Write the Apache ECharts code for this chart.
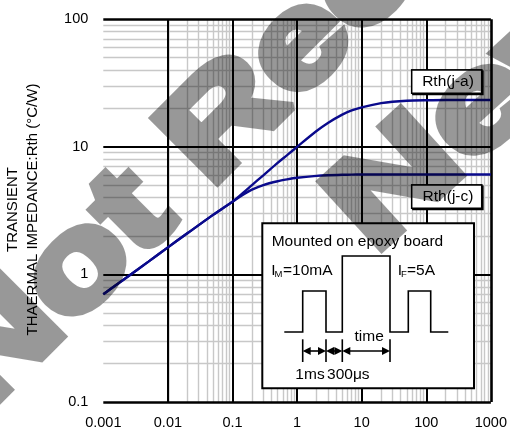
<!DOCTYPE html>
<html>
<head>
<meta charset="utf-8">
<script src="https://cdn.jsdelivr.net/npm/echarts/dist/echarts.min.js"></script>
<style>
html,body{margin:0;padding:0;background:#fff;}
#chart{width:510px;height:432px;}
#chart canvas[data-zr-dom-id="zr_5"]{opacity:0.4;}
</style>
</head>
<body>
<div id="chart"></div>
<script>
// ---- data ----
const xTicks = [0.001, 0.01, 0.1, 1, 10, 100, 1000];
const xTickLabels = ['0.001', '0.01', '0.1', '1', '10', '100', '1000'];
const yTicks = [0.1, 1, 10, 100];
const yTickLabels = ['0.1', '1', '10', '100'];
const seriesNames = ['Rth(j-a)', 'Rth(j-c)'];
const timeSec = [0.001, 0.002, 0.005, 0.01, 0.02, 0.05, 0.1, 0.15, 0.2, 0.3, 0.5, 0.7, 1, 2, 3, 5, 7, 10, 20, 30, 50, 100, 200, 500, 1000];
const rthJA =   [0.70, 0.90, 1.26, 1.63, 2.10, 2.93, 3.72, 4.42, 5.02, 5.98, 7.49, 8.61, 10.0, 13.3, 15.4, 17.9, 19.3, 20.4, 22.0, 22.6, 23.0, 23.2, 23.3, 23.3, 23.3];
const rthJC =   [0.70, 0.90, 1.26, 1.63, 2.10, 2.93, 3.72, 4.25, 4.62, 5.02, 5.38, 5.56, 5.72, 5.92, 5.99, 6.04, 6.06, 6.07, 6.08, 6.08, 6.08, 6.08, 6.08, 6.08, 6.08];
const yAxisTitle = 'TRANSIENT\nTHAERMAL IMPEDANCE:Rth (°C/W)';
const insetTitle = 'Mounted on epoxy board';
const watermarkLines = ['Not Recommended for', 'New Design'];

const FONT = '"Liberation Sans", Arial, Helvetica, sans-serif';

function minorValues(ticks) {
  const out = [];
  for (let i = 0; i < ticks.length - 1; i++) {
    for (let m = 2; m <= 9; m++) out.push(ticks[i] * m);
  }
  return out;
}
function labelFor(ticks, labels, v) {
  const idx = ticks.findIndex(t => Math.abs(Math.log10(t) - Math.log10(v)) < 1e-6);
  return idx >= 0 ? labels[idx] : '';
}

const chart = echarts.init(document.getElementById('chart'), null, {renderer: 'canvas'});

const gridLineSeries = (xs, ys, color, width, z) => ({
  type: 'line',
  data: [],
  z: z,
  silent: true,
  markLine: {
    z: z,
    silent: true,
    symbol: ['none', 'none'],
    label: {show: false},
    emphasis: {disabled: true},
    animation: false,
    lineStyle: {color: color, width: width, type: 'solid'},
    data: xs.map(v => ({xAxis: v})).concat(ys.map(v => ({yAxis: v})))
  }
});

const W = 15.5; // inset text size
const arrowY = 351;
function arrowHeads(a, b) {
  return [
    {type: 'polygon', z: 12, shape: {points: [[a, arrowY], [a + 8, arrowY - 4], [a + 8, arrowY + 4]]}, style: {fill: '#000'}},
    {type: 'polygon', z: 12, shape: {points: [[b, arrowY], [b - 8, arrowY - 4], [b - 8, arrowY + 4]]}, style: {fill: '#000'}},
    {type: 'line', z: 12, shape: {x1: a + 4, y1: arrowY, x2: b - 4, y2: arrowY}, style: {stroke: '#000', lineWidth: 1.6}}
  ];
}
const tickXs = [302.7, 326, 342.3, 390];
const labelBox = (y, text) => ([
  {type: 'rect', z: 10, shape: {x: 411.7, y: y, width: 70, height: 23.3},
   style: {fill: '#fff', stroke: '#000', lineWidth: 1.5, shadowColor: '#000', shadowOffsetX: 1.2, shadowOffsetY: 1.2, shadowBlur: 0}},
  {type: 'rect', z: 10, shape: {x: 411.7, y: y, width: 70, height: 23.3}, style: {fill: '#fff', stroke: '#000', lineWidth: 1.5}},
  {type: 'text', z: 11, x: 448, y: y + 12, style: {text: text, fontSize: W, fontFamily: FONT, align: 'center', verticalAlign: 'middle', fill: '#000'}}
]);

const graphics = [
  {type: 'text', z: 10, x: 23, y: 209.5, rotation: Math.PI / 2,
   style: {text: yAxisTitle, fontSize: 15, lineHeight: 20, fontFamily: FONT, align: 'center', verticalAlign: 'middle', fill: '#000'}},
  ...labelBox(70, seriesNames[0]),
  ...labelBox(185, seriesNames[1]),
  // inset
  {type: 'rect', z: 10, shape: {x: 262.3, y: 223.3, width: 211.7, height: 165}, style: {fill: '#fff', stroke: '#000', lineWidth: 2}},
  {type: 'text', z: 11, x: 271.7, y: 242, style: {text: insetTitle, fontSize: W, fontFamily: FONT, align: 'left', verticalAlign: 'middle', fill: '#000'}},
  {type: 'text', z: 11, x: 271.2, y: 271, style: {text: 'I', fontSize: W, fontFamily: FONT, align: 'left', verticalAlign: 'middle', fill: '#000'}},
  {type: 'text', z: 11, x: 274.5, y: 274, style: {text: 'M', fontSize: 9.5, fontFamily: FONT, align: 'left', verticalAlign: 'middle', fill: '#000'}},
  {type: 'text', z: 11, x: 283, y: 271, style: {text: '=10mA', fontSize: W, fontFamily: FONT, align: 'left', verticalAlign: 'middle', fill: '#000'}},
  {type: 'text', z: 11, x: 397.8, y: 271, style: {text: 'I', fontSize: W, fontFamily: FONT, align: 'left', verticalAlign: 'middle', fill: '#000'}},
  {type: 'text', z: 11, x: 401, y: 274, style: {text: 'F', fontSize: 9.5, fontFamily: FONT, align: 'left', verticalAlign: 'middle', fill: '#000'}},
  {type: 'text', z: 11, x: 407, y: 271, style: {text: '=5A', fontSize: W, fontFamily: FONT, align: 'left', verticalAlign: 'middle', fill: '#000'}},
  {type: 'polyline', z: 12, shape: {points: [[284.3, 332], [302.7, 332], [302.7, 291], [326, 291], [326, 332], [342.3, 332], [342.3, 256], [390, 256], [390, 332], [408.3, 332], [408.3, 291], [430.7, 291], [430.7, 332], [448.3, 332]]},
   style: {stroke: '#000', lineWidth: 1.6, fill: null}},
  {type: 'text', z: 11, x: 369.2, y: 336.5, style: {text: 'time', fontSize: W, fontFamily: FONT, align: 'center', verticalAlign: 'middle', fill: '#000'}},
  {type: 'text', z: 11, x: 310, y: 375, style: {text: '1ms', fontSize: W, fontFamily: FONT, align: 'center', verticalAlign: 'middle', fill: '#000'}},
  {type: 'text', z: 11, x: 348.3, y: 375, style: {text: '300μs', fontSize: W, fontFamily: FONT, align: 'center', verticalAlign: 'middle', fill: '#000'}}
];
tickXs.forEach(x => graphics.push({type: 'line', z: 12, shape: {x1: x, y1: 339.3, x2: x, y2: 362}, style: {stroke: '#000', lineWidth: 1.6}}));
for (let i = 0; i < tickXs.length - 1; i++) arrowHeads(tickXs[i], tickXs[i + 1]).forEach(g => graphics.push(g));

// watermark: solid black on its own layer, the layer is made 40% opaque by CSS
const WM = 130;
const wmStyle = t => ({text: t, fontSize: WM, fontWeight: 'bold', fontFamily: FONT, align: 'left', verticalAlign: 'middle',
  fill: '#000', stroke: '#000', lineWidth: 9, lineJoin: 'miter'});
graphics.push({type: 'text', zlevel: 5, z: 30, x: -40, y: 388, rotation: Math.PI / 4, scaleX: 1.26, style: wmStyle(watermarkLines[0])});
graphics.push({type: 'text', zlevel: 5, z: 30, x: 350, y: 228, rotation: 0.74, scaleX: 1.36, style: wmStyle(watermarkLines[1])});

const option = {
  animation: false,
  backgroundColor: '#fff',
  grid: {left: 103.3, right: 18.3, top: 19.3, bottom: 30, containLabel: false},
  xAxis: {
    type: 'log', logBase: 10, min: xTicks[0], max: xTicks[xTicks.length - 1], splitNumber: 6,
    axisLine: {show: false}, axisTick: {show: false}, splitLine: {show: false},
    axisLabel: {show: true, showMinLabel: true, showMaxLabel: true, hideOverlap: false, margin: 13, color: '#000', fontSize: 14.5, fontFamily: FONT,
      formatter: v => labelFor(xTicks, xTickLabels, v)}
  },
  yAxis: {
    type: 'log', logBase: 10, min: yTicks[0], max: yTicks[yTicks.length - 1], splitNumber: 3,
    axisLine: {show: false}, axisTick: {show: false}, splitLine: {show: false},
    axisLabel: {show: true, showMinLabel: true, showMaxLabel: true, hideOverlap: false, margin: 15, color: '#000', fontSize: 14.5, fontFamily: FONT,
      formatter: v => labelFor(yTicks, yTickLabels, v)}
  },
  series: [
    gridLineSeries(minorValues(xTicks), minorValues(yTicks), '#c8c8c8', 1.4, 1),
    gridLineSeries(xTicks.slice(1, -1), yTicks.slice(1, -1), '#000', 2, 2),
    gridLineSeries([xTicks[0], xTicks[xTicks.length - 1]], [yTicks[0], yTicks[yTicks.length - 1]], '#000', 2.6, 2),
    {name: seriesNames[0], type: 'line', z: 3, smooth: 0.3, symbol: 'none', silent: true,
     lineStyle: {color: '#0a0a8c', width: 2.4}, data: timeSec.map((t, i) => [t, rthJA[i]])},
    {name: seriesNames[1], type: 'line', z: 3, smooth: 0.3, symbol: 'none', silent: true,
     lineStyle: {color: '#0a0a8c', width: 2.4}, data: timeSec.map((t, i) => [t, rthJC[i]])}
  ],
  graphic: {elements: graphics}
};
chart.setOption(option);
</script>
</body>
</html>
